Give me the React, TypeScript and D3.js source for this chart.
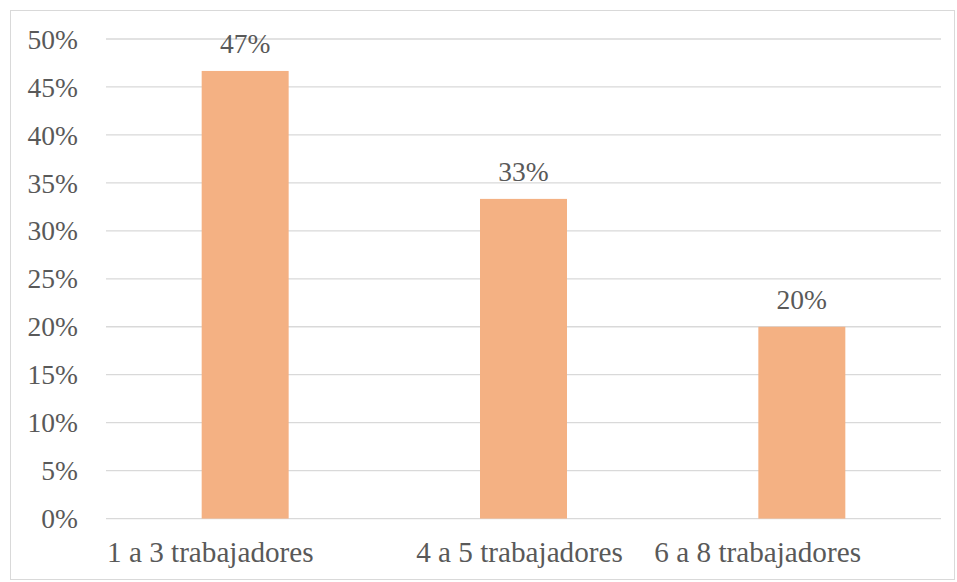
import React from "react";
import * as d3 from "d3";

// Share of firms by number of workers
const categories: string[] = ["1 a 3 trabajadores", "4 a 5 trabajadores", "6 a 8 trabajadores"];
const shares: number[] = [0.4667, 0.3333, 0.2];
const yTicks: number[] = [0, 0.05, 0.1, 0.15, 0.2, 0.25, 0.3, 0.35, 0.4, 0.45, 0.5];

const W = 957;
const H = 582;
const FONT = "Liberation Serif, Tinos, Times New Roman, DejaVu Serif, serif";
const TEXT = "#595959";
const GRID = "#D9D9D9";
const BAR = "#F4B183";

export default function App() {
  const left = 106;
  const right = 941;
  const top = 39;
  const bottom = 518.6;

  const x = d3.scaleBand<string>().domain(categories).range([left, right]).paddingInner(0.6875).paddingOuter(0.34375);
  const y = d3.scaleLinear().domain([0, 0.5]).range([bottom, top]);
  const pct = d3.format(".0%");

  // category labels are nudged the way the source layout places them
  const labelAnchor: ("start" | "middle" | "end")[] = ["start", "middle", "start"];
  const labelX = (i: number) => {
    const b = x(categories[i])!;
    if (i === 0) return left + 1;
    if (i === 1) return b + x.bandwidth() / 2 - 4;
    return b - 104;
  };

  const textStyle: React.CSSProperties = { fontFamily: FONT, fontSize: "27.5px" };
  const catStyle: React.CSSProperties = { fontFamily: FONT, fontSize: "29.2px" };

  return (
    <svg width={W} height={H} style={{ position: "absolute", left: 0, top: 0, display: "block" }}>
      <rect x={0} y={0} width={W} height={H} fill="#fff" />
      <rect x={10.5} y={10.5} width={W - 13} height={H - 13} fill="none" stroke={GRID} strokeWidth={1} />
      {yTicks.map((t) => (
        <g key={t}>
          <line x1={left} x2={right} y1={y(t)} y2={y(t)} stroke={GRID} strokeWidth={1.3} />
          <text x={78} y={y(t)} dy="0.35em" textAnchor="end" style={textStyle} fill={TEXT}>
            {pct(t)}
          </text>
        </g>
      ))}
      {categories.map((c, i) => (
        <g key={c}>
          <rect x={x(c)} y={y(shares[i])} width={x.bandwidth()} height={bottom - y(shares[i])} fill={BAR} />
          <text
            x={x(c)! + x.bandwidth() / 2}
            y={y(shares[i]) - 17.5}
            textAnchor="middle"
            style={textStyle}
            fill={TEXT}
          >
            {pct(shares[i])}
          </text>
          <text x={labelX(i)} y={561.5} textAnchor={labelAnchor[i]} style={catStyle} fill={TEXT}>
            {c}
          </text>
        </g>
      ))}
    </svg>
  );
}
